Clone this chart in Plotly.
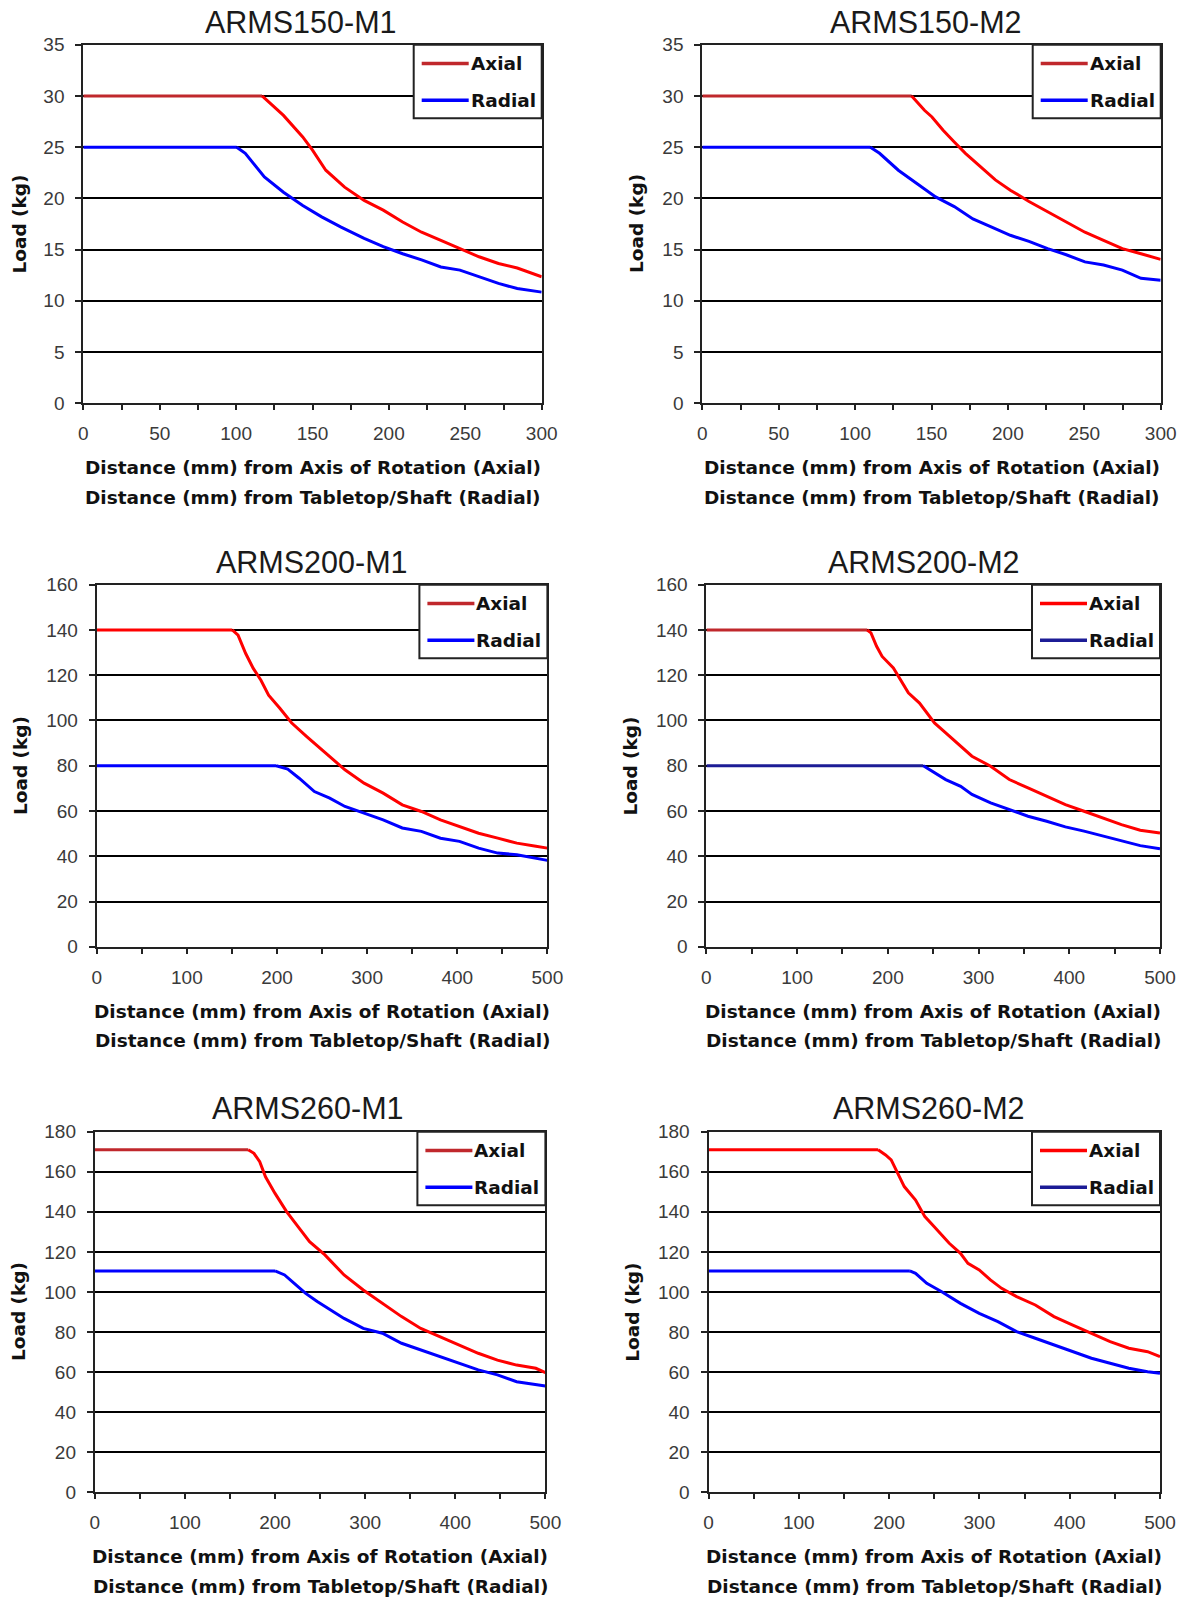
import plotly.graph_objects as go

W, H = 1184, 1597

# ---------------- data ----------------
titles = ["ARMS150-M1", "ARMS150-M2", "ARMS200-M1", "ARMS200-M2", "ARMS260-M1", "ARMS260-M2"]
x_max = [300, 300, 500, 500, 500, 500]
x_label_step = [50, 50, 100, 100, 100, 100]
x_minor_step = [25, 25, 50, 50, 50, 50]
y_max = [35, 35, 160, 160, 180, 180]
y_step = [5, 5, 20, 20, 20, 20]
series_names = ["Axial", "Radial"]
y_title = "Load (kg)"
x_title_1 = "Distance (mm) from Axis of Rotation (Axial)"
x_title_2 = "Distance (mm) from Tabletop/Shaft (Radial)"

# ARMS150-M1
axial_150m1_x = [0, 117, 131, 143.6, 150, 158.7, 171, 183.8, 196.3, 209, 221.4, 234, 246.5, 259, 271.7, 284, 300]
axial_150m1_y = [30, 30, 28.1, 26.0, 24.7, 22.75, 21.1, 19.8, 18.85, 17.7, 16.7, 15.9, 15.1, 14.3, 13.65, 13.2, 12.35]
radial_150m1_x = [0, 100.4, 106, 118.5, 131, 143.6, 156, 168.7, 183.8, 196.3, 209, 221.4, 234, 246.5, 259, 271.7, 284, 300]
radial_150m1_y = [25, 25, 24.4, 22.1, 20.6, 19.3, 18.2, 17.2, 16.1, 15.3, 14.6, 14.0, 13.3, 13.0, 12.35, 11.7, 11.2, 10.85]

# ARMS150-M2
axial_150m2_x = [0, 137, 145.4, 150.3, 157.6, 164.9, 172.2, 182, 191.8, 201.6, 213.8, 226, 238.2, 250.4, 262.6, 274.9, 287.1, 300]
axial_150m2_y = [30, 30, 28.6, 27.95, 26.65, 25.5, 24.4, 23.1, 21.8, 20.8, 19.7, 18.7, 17.7, 16.7, 15.9, 15.1, 14.6, 14.05]
radial_150m2_x = [0, 110, 116, 128.3, 140.5, 152.7, 164.9, 177.1, 189.4, 201.6, 213.8, 226, 238.2, 250.4, 262.6, 274.9, 287.1, 300]
radial_150m2_y = [25, 25, 24.4, 22.75, 21.45, 20.15, 19.2, 18.0, 17.2, 16.4, 15.8, 15.1, 14.5, 13.8, 13.5, 13.0, 12.2, 12.0]

# ARMS200-M1
axial_200m1_x = [0, 150.4, 156.8, 165.3, 173.7, 182.2, 190.7, 203.4, 216.1, 233, 254.2, 275.4, 296.6, 317.8, 339, 360.2, 381.4, 402.5, 423.7, 444.9, 466.1, 487.3, 500]
axial_200m1_y = [140, 140, 137.7, 129.6, 123.0, 117.8, 111.2, 105.3, 99.0, 92.9, 85.5, 78.2, 72.3, 67.9, 62.7, 59.8, 56.1, 53.2, 50.2, 48.0, 45.8, 44.4, 43.6]
radial_200m1_x = [0, 199.2, 211.9, 224.6, 241.5, 258.5, 275.4, 296.6, 317.8, 339, 360.2, 381.4, 402.5, 423.7, 444.9, 466.1, 487.3, 500]
radial_200m1_y = [80, 80, 78.5, 74.5, 68.6, 65.7, 62.0, 59.1, 56.1, 52.5, 51.0, 48.0, 46.6, 43.6, 41.4, 40.7, 39.2, 38.2]

# ARMS200-M2
axial_200m2_x = [0, 177.3, 181.4, 187.6, 193.7, 206.1, 214.3, 222.6, 234.9, 243.2, 251.4, 263.8, 276.2, 292.7, 313.3, 333.9, 354.5, 375.1, 395.7, 416.3, 436.9, 457.5, 478.2, 500]
axial_200m2_y = [140, 140, 138.7, 132.8, 128.3, 123.2, 118.0, 112.2, 107.7, 103.3, 98.9, 94.5, 90.1, 84.2, 79.8, 73.9, 70.2, 66.5, 62.8, 59.9, 57.0, 54.0, 51.5, 50.3]
radial_200m2_x = [0, 239.1, 251.4, 263.8, 280.3, 292.7, 313.3, 333.9, 354.5, 375.1, 395.7, 416.3, 436.9, 457.5, 478.2, 500]
radial_200m2_y = [80, 80, 76.8, 73.9, 70.9, 67.3, 63.6, 60.6, 57.7, 55.5, 53.0, 51.1, 48.9, 46.7, 44.7, 43.3]

# ARMS260-M1
axial_260m1_x = [0, 170.2, 176.6, 183, 189.4, 200, 212.8, 225.5, 238.3, 255.3, 276.6, 297.9, 319.1, 340.4, 361.7, 383, 404.3, 425.5, 446.8, 468.1, 489.4, 500]
axial_260m1_y = [171, 171, 169.2, 165.0, 157.5, 149.2, 140.1, 132.6, 125.1, 118.5, 108.5, 101.0, 94.3, 87.7, 81.8, 77.7, 73.5, 69.4, 66.0, 63.5, 61.9, 59.7]
radial_260m1_x = [0, 200, 210.6, 221.3, 234, 246.8, 263.8, 276.6, 297.9, 319.1, 340.4, 361.7, 383, 404.3, 425.5, 446.8, 468.1, 500]
radial_260m1_y = [110.5, 110.5, 108.5, 104.3, 99.3, 95.2, 90.2, 86.8, 81.8, 79.4, 74.4, 71.0, 67.7, 64.4, 61.1, 58.6, 55.2, 53.1]

# ARMS260-M2
axial_260m2_x = [0, 187.8, 196.1, 202.3, 208.5, 216.8, 229.3, 239.6, 250, 266.6, 279, 287.3, 299.8, 312.2, 324.6, 341.2, 361.9, 382.6, 403.4, 424.1, 444.8, 465.5, 486.3, 500]
axial_260m2_y = [171, 171, 168.4, 165.9, 160.0, 152.6, 145.9, 137.6, 132.6, 124.3, 119.3, 114.3, 111.0, 106.0, 101.8, 97.7, 93.5, 87.7, 83.5, 79.4, 75.2, 71.9, 70.2, 67.7]
radial_260m2_x = [0, 223, 229.3, 241.7, 258.3, 279, 299.8, 320.5, 341.2, 361.9, 382.6, 403.4, 424.1, 444.8, 465.5, 486.3, 500]
radial_260m2_y = [110.5, 110.5, 109.3, 104.3, 100.1, 94.3, 89.3, 85.2, 80.2, 76.9, 73.5, 70.2, 66.9, 64.4, 61.9, 60.2, 59.4]

axial_x = [axial_150m1_x, axial_150m2_x, axial_200m1_x, axial_200m2_x, axial_260m1_x, axial_260m2_x]
axial_y = [axial_150m1_y, axial_150m2_y, axial_200m1_y, axial_200m2_y, axial_260m1_y, axial_260m2_y]
radial_x = [radial_150m1_x, radial_150m2_x, radial_200m1_x, radial_200m2_x, radial_260m1_x, radial_260m2_x]
radial_y = [radial_150m1_y, radial_150m2_y, radial_200m1_y, radial_200m2_y, radial_260m1_y, radial_260m2_y]

# ---------------- styles / layout ----------------
RED = "#ff0000"
DARK_RED = "#c0282c"
BLUE = "#0000ff"
NAVY = "#1c1c96"

axial_flat_col = [DARK_RED, DARK_RED, RED, DARK_RED, DARK_RED, RED]
radial_flat_col = [BLUE, BLUE, BLUE, NAVY, BLUE, BLUE]
axial_leg_col = [DARK_RED, DARK_RED, DARK_RED, RED, DARK_RED, RED]
radial_leg_col = [BLUE, BLUE, BLUE, NAVY, BLUE, NAVY]

# plot-area rectangles in window pixels: (left, right, top, bottom)
rects = [(83.3, 541.7, 44.7, 403.3), (702.3, 1160.7, 44.7, 403.3),
         (96.7, 547.4, 584.7, 946.8), (706.4, 1160.0, 584.7, 946.8),
         (94.8, 545.4, 1131.7, 1492.3), (708.5, 1160.0, 1131.7, 1492.3)]
title_pos = [(300.8, 21.7), (926.3, 21.7), (312.2, 561.7), (924.3, 561.7), (308.3, 1108.3), (929.2, 1108.3)]
ytitle_x = [19.6, 637.0, 20.3, 630.8, 18.1, 631.7]


def PX(px):
    return px / W


def PY(py):
    return 1 - py / H


TICK_FONT = dict(family="Liberation Sans, Arial", size=19, color="#3a3a3a")
BOLD_FONT = dict(family="DejaVu Sans", size=18.5, color="#111111")
LINE_COL = "#222222"

fig = go.Figure()
layout = dict(template="none", width=W, height=H,
              margin=dict(l=0, r=0, t=0, b=0, pad=0, autoexpand=False),
              paper_bgcolor="white", plot_bgcolor="white", showlegend=False)
annotations = []
shapes = []

for i in range(6):
    n = "" if i == 0 else str(i + 1)
    xa, ya = "x" + n, "y" + n
    l, r, t, b = rects[i]

    ax, ay, rx, ry = axial_x[i], axial_y[i], radial_x[i], radial_y[i]
    fig.add_trace(go.Scatter(x=rx[:2], y=ry[:2], mode="lines", xaxis=xa, yaxis=ya,
                             line=dict(color=radial_flat_col[i], width=3), hoverinfo="skip"))
    fig.add_trace(go.Scatter(x=rx[1:], y=ry[1:], mode="lines", xaxis=xa, yaxis=ya,
                             line=dict(color=BLUE, width=3), name=series_names[1]))
    fig.add_trace(go.Scatter(x=ax[:2], y=ay[:2], mode="lines", xaxis=xa, yaxis=ya,
                             line=dict(color=axial_flat_col[i], width=3), hoverinfo="skip"))
    fig.add_trace(go.Scatter(x=ax[1:], y=ay[1:], mode="lines", xaxis=xa, yaxis=ya,
                             line=dict(color=RED, width=3), name=series_names[0]))

    layout["xaxis" + n] = dict(
        domain=[PX(l), PX(r)], anchor=ya, range=[0, x_max[i]], automargin=False,
        tickmode="linear", tick0=0, dtick=x_label_step[i],
        ticks="outside", ticklen=5, tickwidth=1.5, tickcolor=LINE_COL,
        minor=dict(dtick=x_minor_step[i], ticks="outside", ticklen=5, tickwidth=1.5, tickcolor=LINE_COL),
        showgrid=False, zeroline=False, showline=True, linecolor=LINE_COL, linewidth=2, mirror=True,
        tickfont=TICK_FONT, ticklabelstandoff=7, fixedrange=True)
    layout["yaxis" + n] = dict(
        domain=[PY(b), PY(t)], anchor=xa, range=[0, y_max[i]], automargin=False,
        tickmode="linear", tick0=0, dtick=y_step[i],
        ticks="outside", ticklen=6, tickwidth=1.5, tickcolor=LINE_COL,
        showgrid=True, gridcolor="#000000", gridwidth=1.6, zeroline=False,
        showline=True, linecolor=LINE_COL, linewidth=2, mirror=True,
        tickfont=TICK_FONT, ticklabelstandoff=7, fixedrange=True)

    annotations.append(dict(text=titles[i], xref="paper", yref="paper", x=PX(title_pos[i][0]),
                            y=PY(title_pos[i][1]), xanchor="center", yanchor="middle", showarrow=False,
                            font=dict(family="Liberation Sans, Arial", size=30.5, color="#1a1a1a")))
    annotations.append(dict(text="<b>" + y_title + "</b>", xref="paper", yref="paper", x=PX(ytitle_x[i]),
                            y=PY((t + b) / 2), xanchor="center", yanchor="middle", textangle=-90,
                            showarrow=False, font=BOLD_FONT))
    cx = (l + r) / 2
    annotations.append(dict(text="<b>" + x_title_1 + "</b>", xref="paper", yref="paper", x=PX(cx),
                            y=PY(b + 64.5), xanchor="center", yanchor="middle", showarrow=False, font=BOLD_FONT))
    annotations.append(dict(text="<b>" + x_title_2 + "</b>", xref="paper", yref="paper", x=PX(cx),
                            y=PY(b + 93.8), xanchor="center", yanchor="middle", showarrow=False, font=BOLD_FONT))

    lx0 = r - 128
    shapes.append(dict(type="rect", xref="paper", yref="paper", x0=PX(lx0), x1=PX(r), y0=PY(t + 73.6), y1=PY(t),
                       line=dict(color=LINE_COL, width=2), fillcolor="white", layer="above"))
    for k, (yy, col) in enumerate([(t + 18.8, axial_leg_col[i]), (t + 55.5, radial_leg_col[i])]):
        shapes.append(dict(type="line", xref="paper", yref="paper", x0=PX(lx0 + 8), x1=PX(lx0 + 55),
                           y0=PY(yy), y1=PY(yy), line=dict(color=col, width=3.5), layer="above"))
        annotations.append(dict(text="<b>" + series_names[k] + "</b>", xref="paper", yref="paper",
                                x=PX(lx0 + 55), y=PY(yy), xanchor="left", yanchor="middle", showarrow=False,
                                font=dict(family="DejaVu Sans", size=18.5, color="#111111")))

layout["annotations"] = annotations
layout["shapes"] = shapes
fig.update_layout(**layout)

fig.write_html("out.html", config={"displayModeBar": False},
               post_script="document.body.style.margin='0';document.body.style.overflow='hidden';")
